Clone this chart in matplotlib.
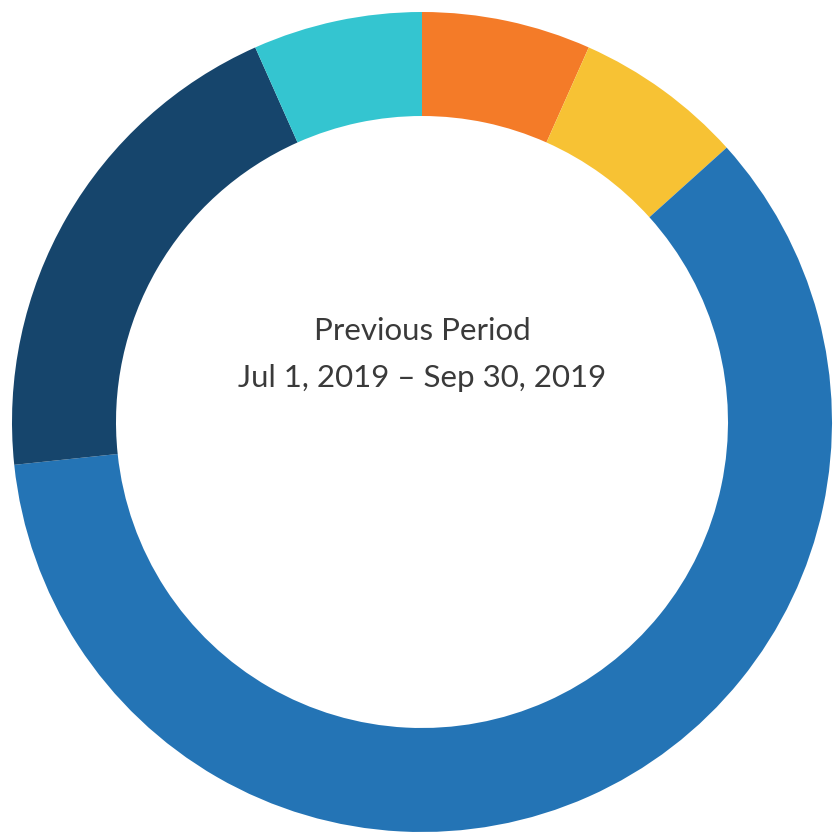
import matplotlib
matplotlib.use("Agg")
import matplotlib.pyplot as plt

labels = ["Orange", "Yellow", "Blue", "Navy", "Cyan"]
values = [1, 1, 9, 3, 1]
colors = ["#F47B28", "#F7C234", "#2474B5", "#16456C", "#34C5D0"]
title_lines = ["Previous Period", "Jul 1, 2019 \u2013 Sep 30, 2019"]

fig = plt.figure(figsize=(8.36, 8.36), dpi=100)
ax = fig.add_axes([0, 0, 1, 1])
ax.set_xlim(-422, 414)
ax.set_ylim(-414, 422)
ax.set_aspect("equal")
ax.axis("off")

R = 410
r_in = 306
ax.pie(values, colors=colors, startangle=90, counterclock=False, radius=R,
       wedgeprops=dict(width=R - r_in, linewidth=0), frame=False)
ax.set_xlim(-422, 414)
ax.set_ylim(-414, 422)

ax.text(0, 422 - 331, title_lines[0], ha="center", va="center",
        fontsize=22.5, color="#3a3a3a", family="Lato")
ax.text(0, 422 - 378, title_lines[1], ha="center", va="center",
        fontsize=22.5, color="#3a3a3a", family="Lato")

fig.savefig("out.png", dpi=100)
